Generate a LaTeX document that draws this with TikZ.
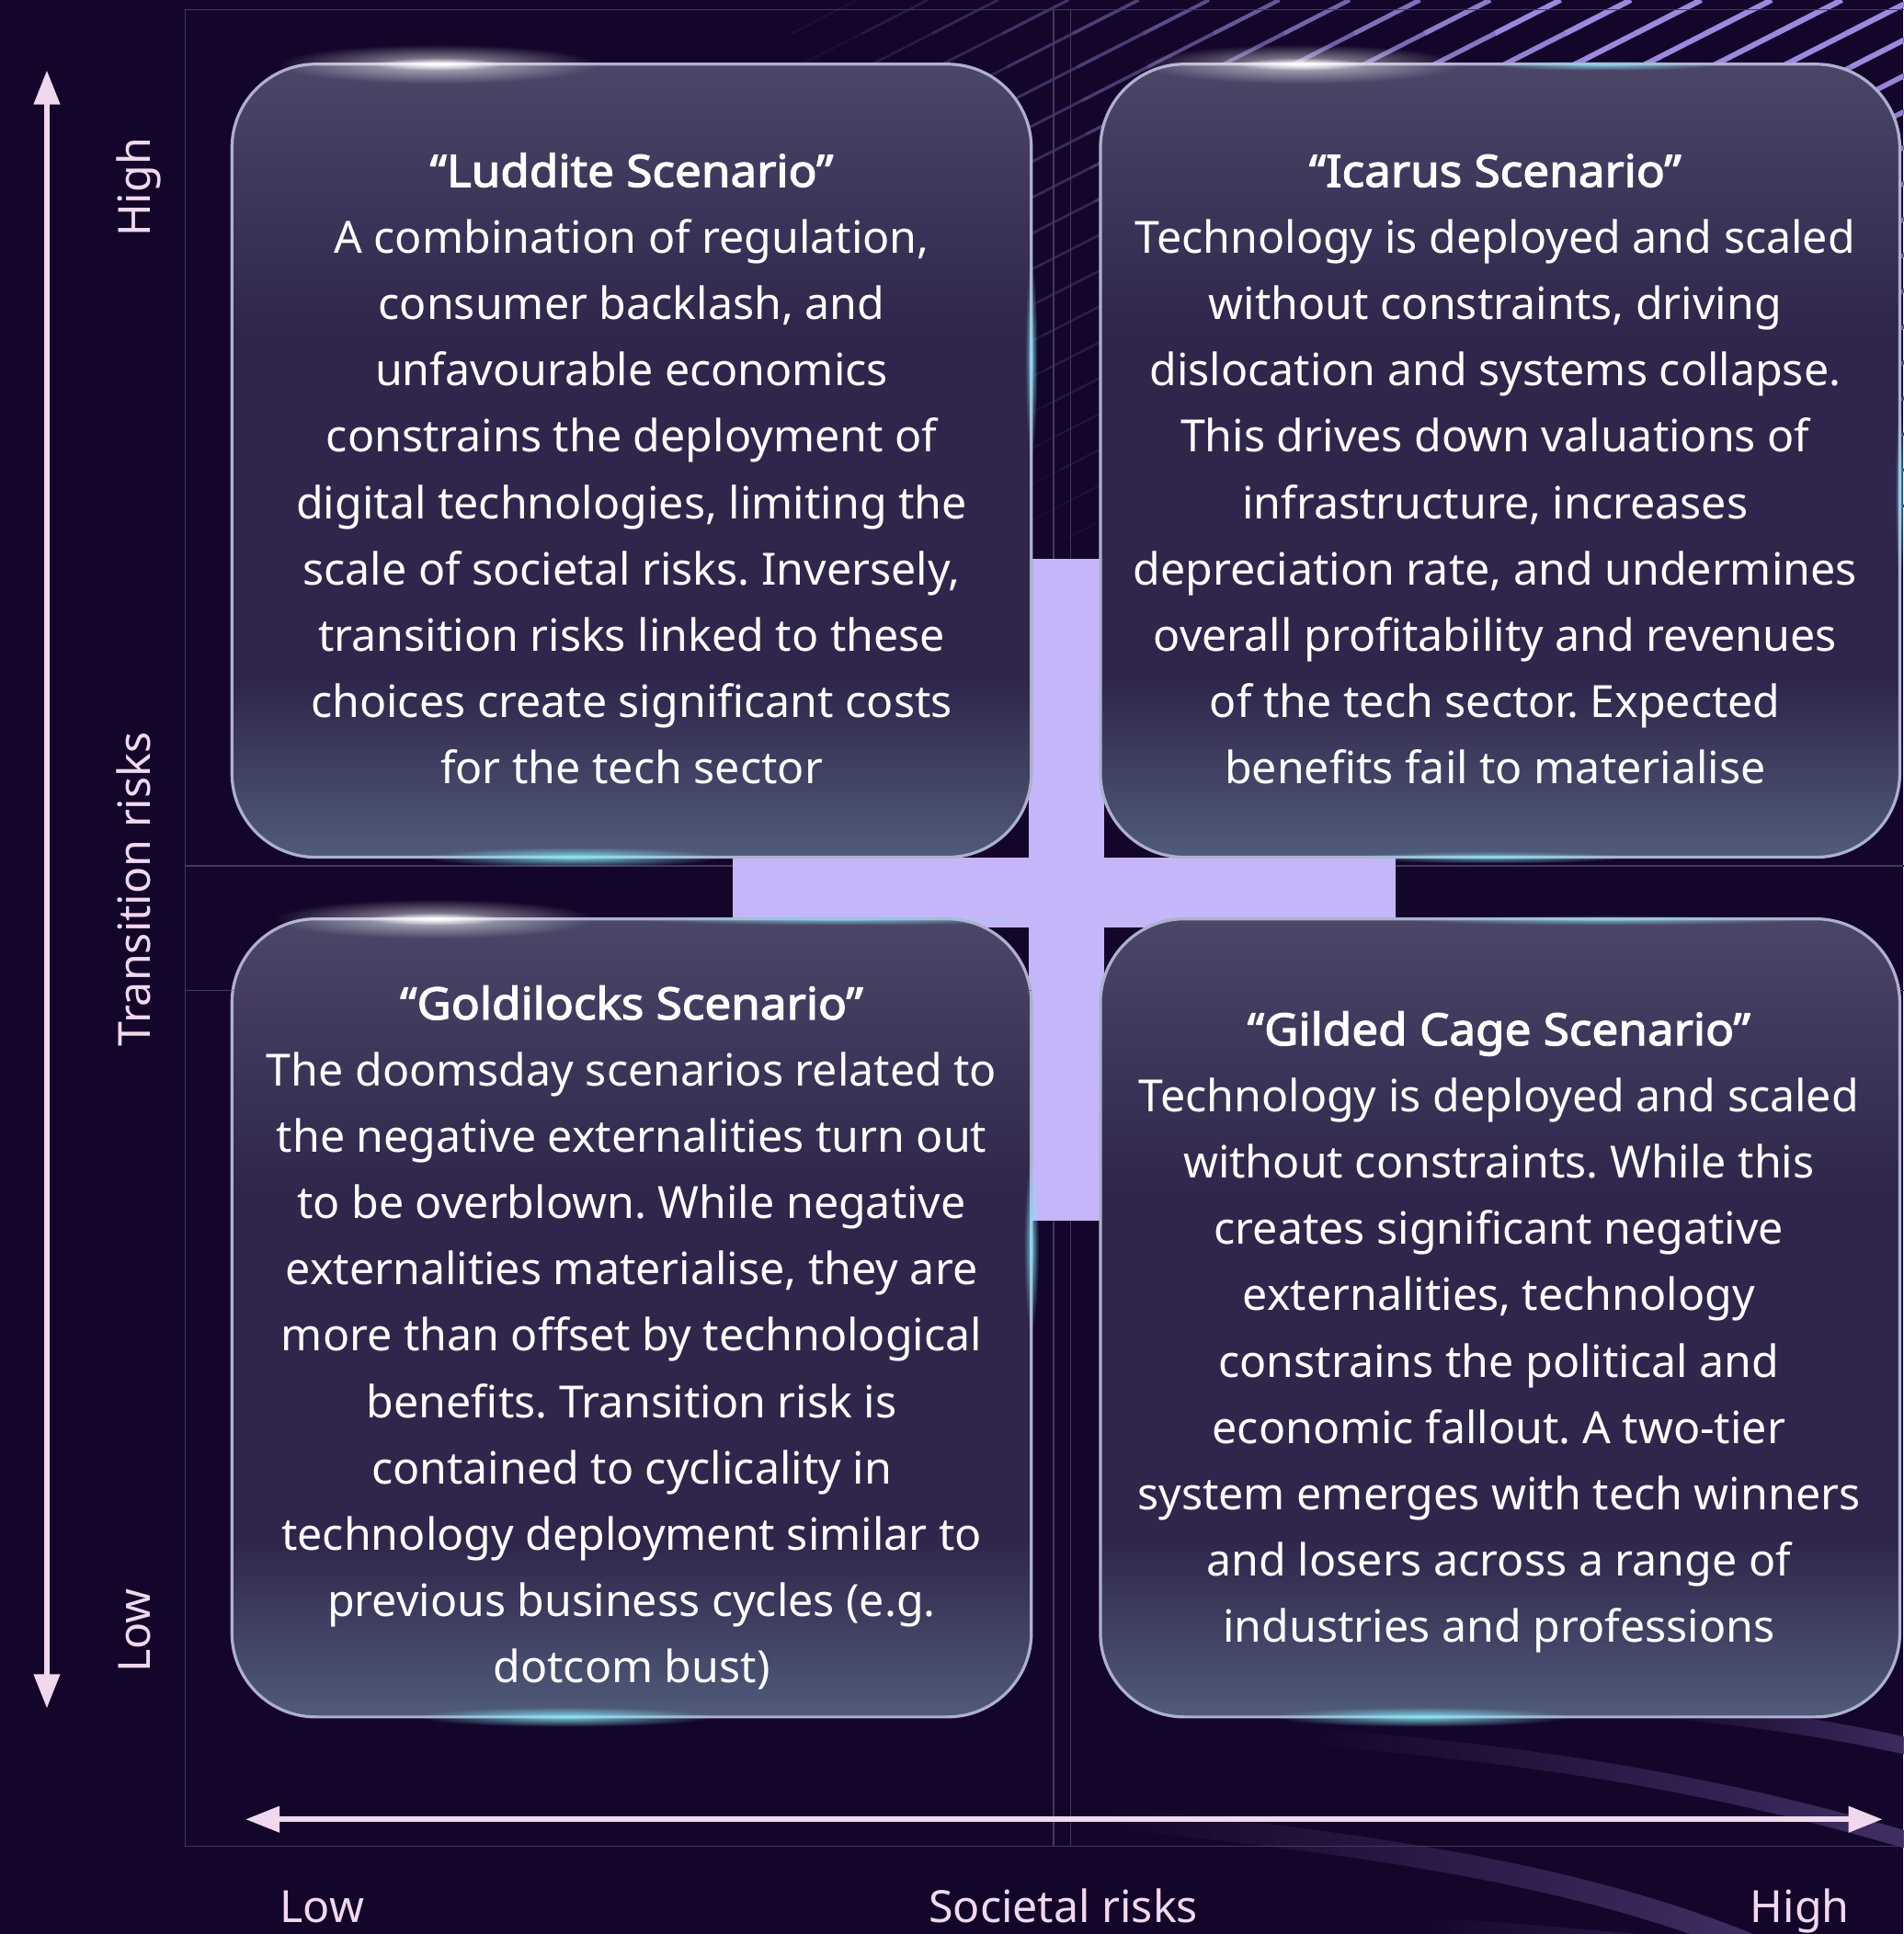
\documentclass[tikz,border=0pt]{standalone}
\usepackage{fontspec}
\setmainfont{Noto Sans}[BoldFont={Noto Sans}, BoldFeatures={FakeBold=2.6, FakeStretch=1.06}]
\usetikzlibrary{arrows.meta,fadings}

\definecolor{bg}{HTML}{14062A}
\definecolor{gridcol}{HTML}{45385F}
\definecolor{axispink}{HTML}{F2D8EE}
\definecolor{crosscol}{HTML}{C5B6F9}
\definecolor{rim}{HTML}{ADB0CF}
\definecolor{boxtop}{HTML}{4C4668}
\definecolor{boxmid}{HTML}{30264C}
\definecolor{boxbot}{HTML}{505B7A}
\definecolor{stripecol}{HTML}{A894EE}
\definecolor{glowcyan}{HTML}{86E6F4}

% glass panel: light top, dark middle, bluish bottom
\pgfdeclareverticalshading{glassbox}{100bp}{color(0bp)=(boxbot); color(25bp)=(boxbot); color(36bp)=(boxmid); color(58bp)=(boxmid); color(75bp)=(boxtop); color(100bp)=(boxtop)}

\tikzfading[name=glowfade, inner color=transparent!0, outer color=transparent!100]
\tikzfading[name=fadeleft, left color=transparent!100, right color=transparent!0]

\begin{document}
\frenchspacing
\begin{tikzpicture}[x=0.5pt,y=-0.5pt,
  glass/.style={shade, shading=glassbox, draw=rim, line width=1.2pt, rounded corners=34pt},
  body/.style={text=white, font=\fontsize{18pt}{26.9pt}\selectfont, align=center, anchor=north, inner sep=0pt},
  axislabel/.style={text=axispink, font=\fontsize{18pt}{22pt}\selectfont, inner sep=0pt, anchor=base},
  axisarrow/.style={draw=axispink, line width=2.2pt, {Triangle[length=13.8pt,width=10.2pt]}-{Triangle[length=13.8pt,width=10.2pt]}},
  gridline/.style={draw=gridcol, line width=0.5pt},
  band/.style={draw=stripecol!32!bg, line cap=round, path fading=fadeleft},
  glow/.style={path fading=glowfade}
]
% canvas
\path[use as bounding box] (0,0) rectangle (1542.7,1568);
\fill[bg] (0,0) rectangle (1542.7,1568);

% soft light bands, lower right
\draw[band, line width=7pt] (1060,1408) .. controls (1300,1426) and (1450,1462) .. (1580,1502);
\draw[band, line width=9pt] (900,1474) .. controls (1150,1498) and (1330,1530) .. (1470,1600);
\draw[band, line width=7pt] (1330,1384) .. controls (1440,1394) and (1510,1406) .. (1580,1424);
\draw[band, line width=6pt] (1150,1560) .. controls (1300,1570) and (1450,1585) .. (1560,1600);

% perspective stripes, upper right
\foreach \i in {0,...,29}{
  \foreach \j in {0,...,15}{
    \pgfmathsetmacro{\xa}{695+57*\i-53.46*\j}
    \pgfmathsetmacro{\ya}{27.24*\j}
    \pgfmathsetmacro{\xb}{\xa-53.46}
    \pgfmathsetmacro{\yb}{\ya+27.24}
    \pgfmathsetmacro{\dd}{veclen(1543-\xa+26.7,\ya+13.6)}
    \pgfmathsetmacro{\ff}{max(0,min(1,1.25-(\dd-100)/650))*max(0,min(1,1-(\ya+13.6)/560))}
    \pgfmathsetmacro{\pp}{min(92,100*\ff)}
    \pgfmathsetmacro{\ww}{0.7+1.6*min(1,\ff)}
    \draw[line width=\ww pt, stripecol!\pp!bg] (\xa,\ya) -- (\xb,\yb);
  }
}

% frame and guide lines
\draw[gridline] (1560,8) -- (150,8) -- (150,1497) -- (1560,1497);
\draw[gridline] (854,8) -- (854,1497);
\draw[gridline] (868,8) -- (868,1497);
\draw[gridline] (150,702) -- (1560,702);
\draw[gridline] (150,803) -- (1560,803);

% central cross
\fill[crosscol] (834,453) rectangle (895,990);
\fill[crosscol] (594,695) rectangle (1131,752);

% glass panels
\path[glass] (188,52) rectangle (836,695);
\path[glass] (892,52) rectangle (1540,695);
\path[glass] (188,745) rectangle (836,1392);
\path[glass] (892,745) rectangle (1540,1392);
\draw[gridcol, line width=0.5pt, opacity=0.5] (188,803) -- (836,803);

% rim highlights
\fill[white, glow, opacity=0.65] (355,52) ellipse [x radius=130, y radius=16];
\fill[white, glow] (355,52) ellipse [x radius=55, y radius=5];
\fill[white, glow, opacity=0.65] (1055,52) ellipse [x radius=130, y radius=16];
\fill[white, glow] (1055,52) ellipse [x radius=55, y radius=5];
\fill[glowcyan, glow, opacity=0.7] (1300,53) ellipse [x radius=90, y radius=4];
\fill[white, glow, opacity=0.65] (352,745) ellipse [x radius=130, y radius=16];
\fill[white, glow] (352,745) ellipse [x radius=55, y radius=5];
\fill[glowcyan, glow, opacity=0.6] (680,746) ellipse [x radius=160, y radius=4];
\fill[glowcyan, glow, opacity=0.6] (1300,746) ellipse [x radius=160, y radius=4];
\fill[glowcyan, glow, opacity=0.9] (465,695) ellipse [x radius=120, y radius=8];
\fill[glowcyan, glow, opacity=0.7] (1210,695) ellipse [x radius=110, y radius=5];
\fill[glowcyan, glow, opacity=0.9] (458,1392) ellipse [x radius=120, y radius=8];
\fill[glowcyan, glow, opacity=0.9] (1152,1392) ellipse [x radius=120, y radius=8];
\fill[glowcyan, glow, opacity=0.8] (836,290) ellipse [x radius=5, y radius=80];
\fill[glowcyan, glow, opacity=0.8] (836,1010) ellipse [x radius=6, y radius=70];
\fill[glowcyan, glow, opacity=0.6] (1540,400) ellipse [x radius=4, y radius=70];

% scenario texts
\node[body] (luddite) at (512,121) {\rule{0pt}{15pt}\textbf{“Luddite Scenario”}\\
A combination of regulation,\\
consumer backlash, and\\
unfavourable economics\\
constrains the deployment of\\
digital technologies, limiting the\\
scale of societal risks. Inversely,\\
transition risks linked to these\\
choices create significant costs\\
for the tech sector};

\node[body] (icarus) at (1212,121) {\rule{0pt}{15pt}\textbf{“Icarus Scenario”}\\
Technology is deployed and scaled\\
without constraints, driving\\
dislocation and systems collapse.\\
This drives down valuations of\\
infrastructure, increases\\
depreciation rate, and undermines\\
overall profitability and revenues\\
of the tech sector. Expected\\
benefits fail to materialise};

\node[body] (goldilocks) at (512,796) {\rule{0pt}{15pt}\textbf{“Goldilocks Scenario”}\\
The doomsday scenarios related to\\
the negative externalities turn out\\
to be overblown. While negative\\
externalities materialise, they are\\
more than offset by technological\\
benefits. Transition risk is\\
contained to cyclicality in\\
technology deployment similar to\\
previous business cycles (e.g.\\
dotcom bust)};

\node[body] (gilded) at (1215,817) {\rule{0pt}{15pt}\textbf{“Gilded Cage Scenario”}\\
Technology is deployed and scaled\\
without constraints. While this\\
creates significant negative\\
externalities, technology\\
constrains the political and\\
economic fallout. A two-tier\\
system emerges with tech winners\\
and losers across a range of\\
industries and professions};

% axes
\coordinate (vTop) at (38,57);
\coordinate (vBot) at (38,1385);
\coordinate (hLeft) at (199,1475);
\coordinate (hRight) at (1526,1475);
\draw[axisarrow] (vTop) -- (vBot);
\draw[axisarrow] (hLeft) -- (hRight);

\node[axislabel, rotate=90] (vHigh) at (122,152) {High};
\node[axislabel, rotate=90] (vName) at (122,721) {Transition risks};
\node[axislabel, rotate=90] (vLow) at (122,1322) {Low};
\node[axislabel] (hLow) at (261,1559) {Low};
\node[axislabel] (hName) at (862,1559) {Societal risks};
\node[axislabel] (hHigh) at (1459,1559) {High};
\end{tikzpicture}
\end{document}
